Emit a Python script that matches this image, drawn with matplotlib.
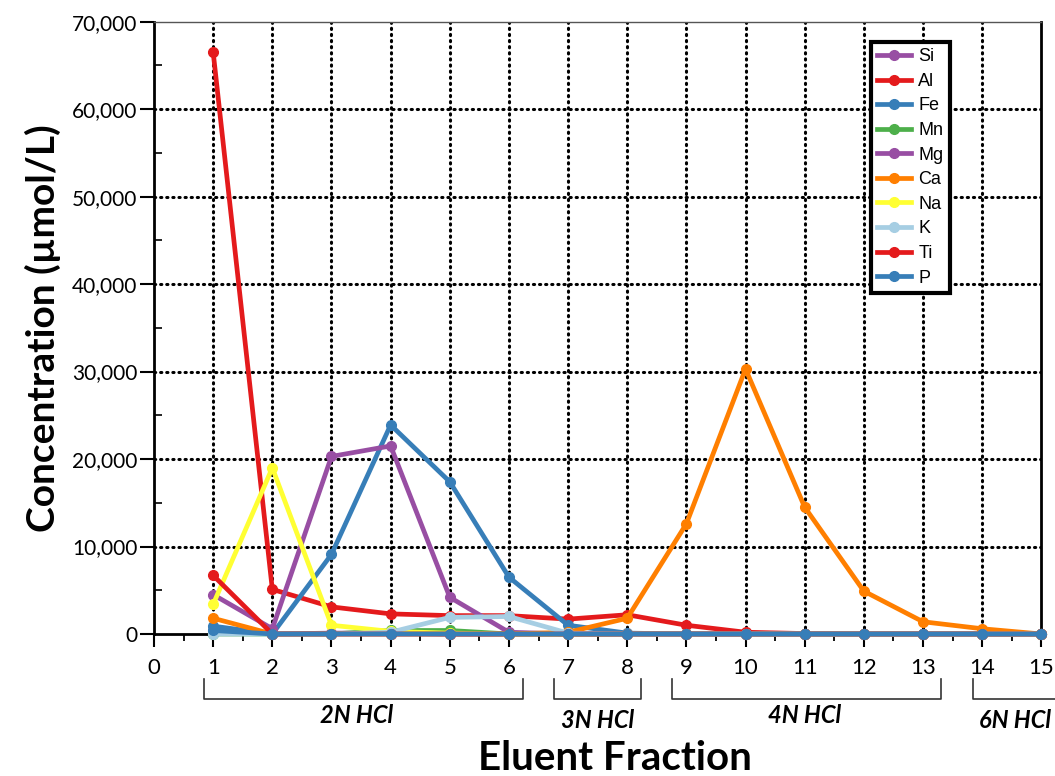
import matplotlib
matplotlib.use("Agg")
import matplotlib.pyplot as plt
from matplotlib.ticker import FuncFormatter, MultipleLocator

# eluent fractions and element concentrations (umol/L)
fractions = list(range(1, 16))
si = [300, 0, 100, 100, 0, 0, 0, 0, 0, 0, 0, 0, 0, 0, 0]
al = [66500, 5100, 3100, 2300, 2100, 2100, 1700, 2200, 1000, 200, 50, 0, 0, 0, 0]
fe = [900, 0, 9100, 23900, 17400, 6500, 1000, 100, 0, 0, 0, 0, 0, 0, 0]
mn = [0, 0, 0, 400, 400, 0, 0, 0, 0, 0, 0, 0, 0, 0, 0]
mg = [4500, 600, 20300, 21500, 4200, 200, 0, 0, 0, 0, 0, 0, 0, 0, 0]
ca = [1800, 0, 0, 0, 0, 0, 200, 1800, 12600, 30300, 14500, 4900, 1400, 600, 0]
na = [3400, 19000, 1000, 300, 100, 0, 0, 0, 0, 0, 0, 0, 0, 0, 0]
k = [0, 0, 0, 200, 1900, 2000, 100, 0, 0, 0, 0, 0, 0, 0, 0]
ti = [6700, 0, 0, 0, 0, 0, 0, 0, 0, 0, 0, 0, 0, 0, 0]
p = [400, 0, 0, 0, 0, 0, 0, 0, 0, 0, 0, 0, 0, 0, 0]

series = [("Si", si, "#984ea3"), ("Al", al, "#e41a1c"), ("Fe", fe, "#377eb8"),
          ("Mn", mn, "#4daf4a"), ("Mg", mg, "#984ea3"), ("Ca", ca, "#ff7f00"),
          ("Na", na, "#ffff33"), ("K", k, "#a6cee3"), ("Ti", ti, "#e41a1c"),
          ("P", p, "#377eb8")]

# acid steps: label, first and last fraction covered by the bracket
acid_labels = ["2N HCl", "3N HCl", "4N HCl", "6N HCl"]
acid_start = [0.85, 6.76, 8.76, 13.85]
acid_end = [6.24, 8.24, 13.31, 15.4]
acid_text_x = [3.43, 7.5, 11.0, 14.55]
acid_text_drop = [89, 94, 89, 94]   # px below the x axis to the text baseline

fig = plt.figure(figsize=(10.55, 7.76), dpi=100)
ax = fig.add_axes([0.146, 0.183, 0.841, 0.789])

for name, vals, col in series:
    ax.plot(fractions, vals, color=col, lw=3.4, marker="o", ms=7,
            label=name, clip_on=False, zorder=3)

ax.set_xlim(0, 15)
ax.set_ylim(0, 70000)

# dotted grid
for xv in range(1, 15):
    ax.axvline(xv, color="black", lw=2.2, ls=(0, (0.4, 1.6)),
               dash_capstyle="round", zorder=1)
for yv in range(10000, 70000, 10000):
    ax.axhline(yv, color="black", lw=2.2, ls=(0, (0.4, 1.6)),
               dash_capstyle="round", zorder=1)

ax.xaxis.set_major_locator(MultipleLocator(1))
ax.xaxis.set_minor_locator(MultipleLocator(0.5))
ax.yaxis.set_major_locator(MultipleLocator(10000))
ax.yaxis.set_minor_locator(MultipleLocator(5000))
ax.yaxis.set_major_formatter(FuncFormatter(lambda v, _: f"{int(v):,}"))

ax.tick_params(axis="x", which="major", direction="out", length=9, width=1.5,
               labelsize=16, pad=8)
ax.tick_params(axis="x", which="minor", direction="out", length=5, width=1.3)
ax.tick_params(axis="y", which="major", direction="out", length=10, width=1.5,
               labelsize=15, pad=2)
ax.tick_params(axis="y", which="minor", direction="in", length=6, width=1.2)
for lab in ax.get_xticklabels() + ax.get_yticklabels():
    lab.set_fontfamily("Lato")

for side in ["left", "bottom", "right"]:
    ax.spines[side].set_linewidth(2)
    ax.spines[side].set_color("black")
ax.spines["top"].set_linewidth(1)
ax.spines["top"].set_color("#555555")

ax.set_ylabel("Concentration (µmol/L)", fontsize=28, fontweight="bold",
              fontfamily="Lato", labelpad=8)
fig.text(0.583, 0.008, "Eluent Fraction", ha="center", va="baseline",
         fontsize=29, fontweight="bold", fontfamily="Lato")

# acid brackets below the axis
ax_h = 0.789 * 776
trans = ax.get_xaxis_transform()
y_top = -(679 - 634) / ax_h
y_bot = -(699 - 634) / ax_h
for lab, s, e, tx, dy in zip(acid_labels, acid_start, acid_end,
                             acid_text_x, acid_text_drop):
    ax.plot([s, s, e, e], [y_top, y_bot, y_bot, y_top], color="#333333",
            lw=1.2, transform=trans, clip_on=False)
    ax.text(tx, -dy / ax_h, lab, transform=trans, ha="center", va="baseline",
            fontsize=17, fontweight="bold", fontstyle="italic",
            fontfamily="Lato")

leg = ax.legend(loc="upper right", bbox_to_anchor=(0.897, 0.967),
                handlelength=1.9, handletextpad=0.4,
                labelspacing=0.42, borderpad=0.35, borderaxespad=0,
                fancybox=False, framealpha=1, edgecolor="black",
                prop={"family": "Liberation Sans", "size": 13})
leg.get_frame().set_linewidth(3)
leg.set_zorder(5)

fig.savefig("out.png", dpi=100)
